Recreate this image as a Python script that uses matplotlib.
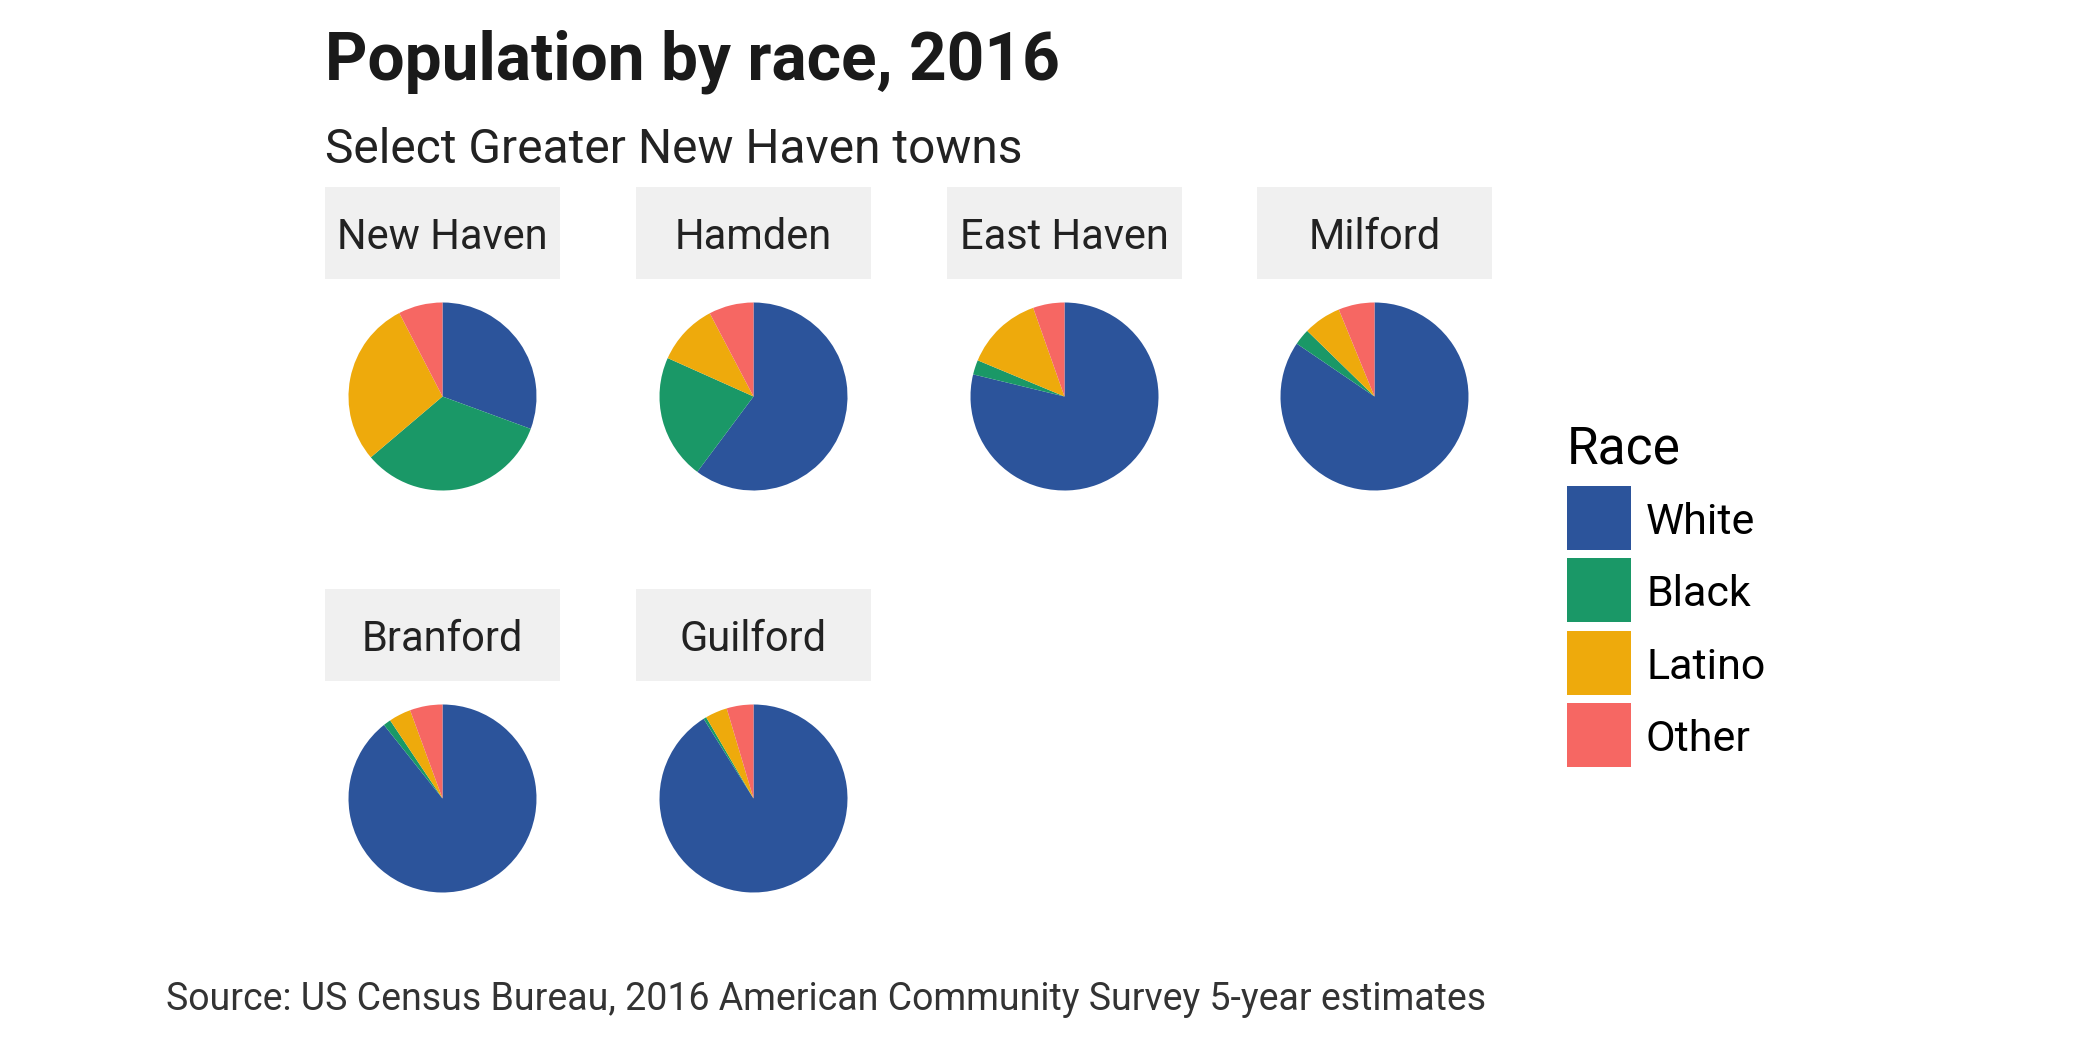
import matplotlib
matplotlib.use("Agg")
import matplotlib.pyplot as plt
from matplotlib.patches import Rectangle

towns = ["New Haven", "Hamden", "East Haven", "Milford", "Branford", "Guilford"]
races = ["White", "Black", "Latino", "Other"]
white = [30.6, 60.2, 78.7, 84.5, 89.3, 91.1]
black = [33.2, 21.5, 2.5, 2.8, 1.3, 0.5]
latino = [28.6, 10.6, 13.3, 6.5, 3.8, 3.8]
other = [7.6, 7.7, 5.4, 6.2, 5.6, 4.6]
colors = ["#2c549b", "#1a9867", "#eeaa0c", "#f66763"]

W, H = 2100, 1050
plt.rcParams['font.family'] = ['Roboto', 'DejaVu Sans']
fig = plt.figure(figsize=(W / 100, H / 100), dpi=100)

def fx(px):
    return px / W

def fy(py):
    return 1 - py / H

panel_x = [325, 636, 947, 1257]
panel_w = 235
strip_h = 92
rows_top = [187, 589]

for i, town in enumerate(towns):
    r, c = divmod(i, 4)
    x0 = panel_x[c]
    top = rows_top[r]
    # strip
    sax = fig.add_axes([fx(x0), fy(top + strip_h), fx(panel_w), strip_h / H])
    sax.add_patch(Rectangle((0, 0), 1, 1, facecolor="#f0f0f0", edgecolor="none"))
    sax.set_xlim(0, 1); sax.set_ylim(0, 1)
    sax.text(0.5, 0.5, town, ha="center", va="center_baseline", fontsize=30, color="#222222")
    sax.axis("off")
    # pie panel
    pax = fig.add_axes([fx(x0), fy(top + strip_h + panel_w), fx(panel_w), panel_w / H])
    vals = [white[i], black[i], latino[i], other[i]]
    pax.pie(vals, colors=colors, startangle=90, counterclock=False, radius=1,
            wedgeprops=dict(linewidth=0))
    pax.set_xlim(-1.25, 1.25); pax.set_ylim(-1.25, 1.25)
    pax.set_aspect("equal")
    pax.axis("off")

# titles
fig.text(fx(325), fy(54), "Population by race, 2016", fontsize=47.3, fontweight="bold",
         color="#1a1a1a", ha="left", va="center_baseline")
fig.text(fx(325), fy(145), "Select Greater New Haven towns", fontsize=34.5,
         color="#222222", ha="left", va="center_baseline")
fig.text(fx(166), fy(996), "Source: US Census Bureau, 2016 American Community Survey 5-year estimates",
         fontsize=27, color="#333333", ha="left", va="center_baseline")

# legend
fig.text(fx(1567), fy(444), "Race", fontsize=37, color="black", ha="left", va="center_baseline")
key_tops = [486, 558, 631, 703]
lax = fig.add_axes([0, 0, 1, 1], facecolor="none")
lax.set_xlim(0, W); lax.set_ylim(H, 0)
lax.axis("off")
for k, (race, col) in enumerate(zip(races, colors)):
    t = key_tops[k]
    lax.add_patch(Rectangle((1567, t), 64, 64, facecolor=col, edgecolor="none"))
    lax.text(1646, t + 32, race, fontsize=31, color="black", ha="left", va="center_baseline")

fig.savefig("out.png", dpi=100)
